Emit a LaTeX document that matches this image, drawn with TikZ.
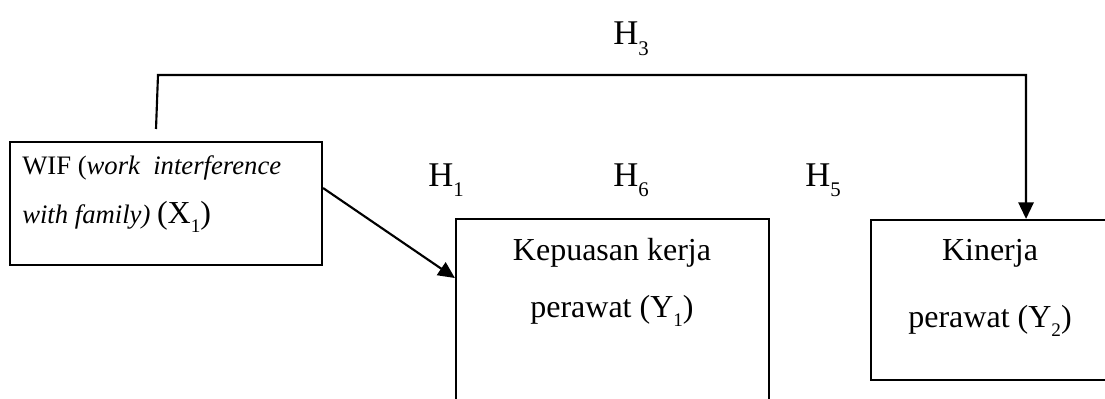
\documentclass[tikz,border=0pt]{standalone}
\usepackage{fontspec}
\setmainfont{Liberation Serif}
\usepackage{graphicx}
\usetikzlibrary{positioning}
\usetikzlibrary{arrows.meta}

\newcommand{\sub}[1]{\raisebox{-0.3em}{\scalebox{0.6}{#1}}}

\tikzset{
  box/.style={draw, line width=1.6pt, inner sep=0pt},
  lbl/.style={inner sep=0pt, anchor=base},
  hyp/.style={inner sep=0pt, anchor=base west, font=\fontsize{26}{30}\selectfont},
  link/.style={line width=1.6pt, -{Triangle[length=12.5pt,width=11.5pt]}}
}

\begin{document}
\begin{tikzpicture}[x=0.75pt,y=-0.75pt]
 \useasboundingbox (0,0) rectangle (1105,399);
 \clip (0,0) rectangle (1105,399);
 \fill[white] (0,0) rectangle (1105,399);

 \node[box, minimum width=234pt, minimum height=92.25pt] (wif) at (166,203.5) {};
 \node[box, minimum width=234.75pt, minimum height=165.75pt] (kep) at (612.5,329.5) {};
 \node[box, minimum width=201.75pt, minimum height=120pt] (kin) at (1005.5,300) {};

 \node[lbl, anchor=base west, font=\fontsize{20}{24}\selectfont] (wif1) at (22,174) {WIF (\textit{work\ \ interference}};
 \node[lbl, anchor=base west, font=\fontsize{20}{24}\selectfont] (wif2) at (22,223) {\textit{with family)} {\fontsize{24}{28}\selectfont(X\sub{1})}};

 \node[lbl, font=\fontsize{24}{28}\selectfont] (kep1) at (612,260) {Kepuasan kerja};
 \node[lbl, font=\fontsize{24}{28}\selectfont] (kep2) at (612,317) {perawat (Y\sub{1})};

 \node[lbl, font=\fontsize{24}{28}\selectfont] (kin1) at (990,260) {Kinerja};
 \node[lbl, font=\fontsize{24}{28}\selectfont] (kin2) at (990,327) {perawat (Y\sub{2})};

 \node[hyp] (h3) at (613,45) {H\sub{3}};
 \node[hyp] (h1) at (428,186) {H\sub{1}};
 \node[hyp] (h6) at (613,186) {H\sub{6}};
 \node[hyp] (h5) at (805,186) {H\sub{5}};

 \coordinate (wiftop) at (156,129);
 \draw[link] ([yshift=11.6pt]wif.east) -- ([yshift=38.6pt]kep.west);
 \draw[link] (wiftop) -- (158,75) -| ([xshift=15.4pt]kin.north);
\end{tikzpicture}
\end{document}
